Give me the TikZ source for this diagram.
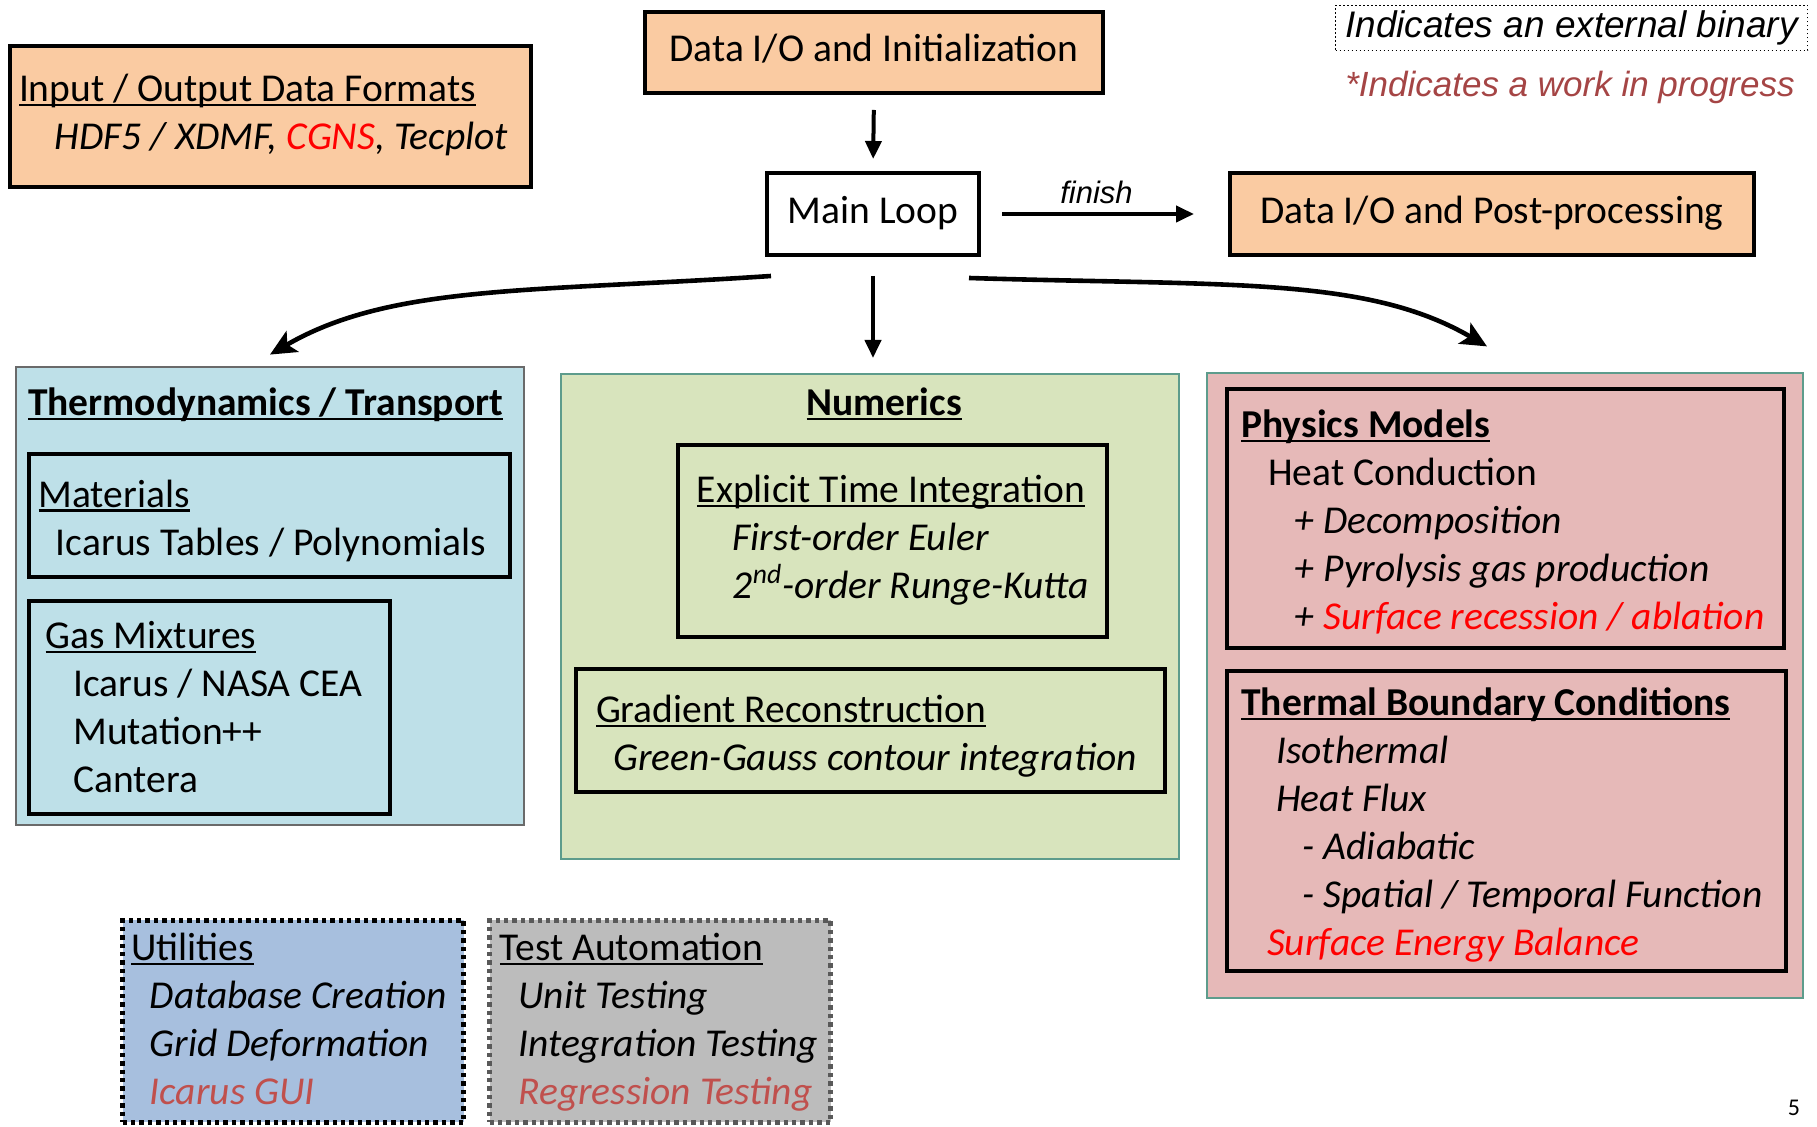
\documentclass[tikz,border=0pt]{standalone}
\usepackage{fontspec}
\setmainfont{Carlito}
\newfontfamily\arialfont{Liberation Sans}
\usetikzlibrary{positioning,arrows.meta}
\definecolor{peach}{HTML}{FACBA2}
\definecolor{thermoblue}{HTML}{BEE0E8}
\definecolor{numgreen}{HTML}{D8E4BD}
\definecolor{physpink}{HTML}{E6B9B8}
\definecolor{utilblue}{HTML}{A7BFDE}
\definecolor{testgrey}{HTML}{BCBCBC}
\definecolor{panelteal}{HTML}{5D9C8C}
\definecolor{panelgrey}{HTML}{6A6A6A}
\definecolor{wipred}{HTML}{C0504D}
\definecolor{legendred}{HTML}{A54545}
\newcommand{\undl}[1]{\setbox0=\hbox{#1}\rlap{\rule[-0.11em]{\wd0}{0.06em}}\box0}
\newcommand{\ind}[1]{\hspace*{#1}}
\tikzset{
  panel/.style     = {draw, line width=1pt, inner sep=0pt},
  boxed/.style     = {draw=black, line width=2pt, inner sep=0pt},
  peachbox/.style  = {boxed, fill=peach, font=\fontsize{19.75}{24}\selectfont,
                      text height=13.5pt, text depth=4pt},
  itemtext/.style  = {inner sep=0pt, align=left, anchor=base west,
                      font=\fontsize{19.75}{24}\selectfont},
  heading/.style   = {inner sep=0pt, anchor=base west,
                      font=\fontsize{19.75}{24}\selectfont\bfseries},
  dotbox/.style    = {line width=2.2pt, dash pattern=on 2.2pt off 2pt, inner sep=0pt},
  flow/.style      = {-{Triangle[length=9pt,width=8pt]}, line width=2pt},
  curvedflow/.style= {-{Stealth[length=13pt,width=12pt,inset=3pt]}, line width=2.3pt},
}
\begin{document}
\begin{tikzpicture}[x=1pt,y=-1pt]
  \useasboundingbox (0,0) rectangle (908.5,563.5);

  % top row (text nodes sit on the baseline of their last line)
  \node[peachbox, minimum width=229pt, minimum height=40.5pt] (init) at (437,26.25)
       {Data I/O and Initialization};
  \node[boxed, fill=white, font=\fontsize{19.75}{24}\selectfont, text height=13.5pt,
        text depth=4pt, minimum width=106pt, minimum height=41pt] (main) at (436.5,107) {Main Loop};
  \node[peachbox, minimum width=262pt, minimum height=41pt] (post) at (746,107)
       {Data I/O and Post-processing};
  \node[peachbox, minimum width=260.5pt, minimum height=70.5pt] (iofmt) at (135.25,58.25) {};
  \node[itemtext] (iofmttxt) at (9.3,74.9)
       {\undl{Input / Output Data Formats}\\ \ind{17.9pt}\textit{HDF5 / XDMF, \textcolor{red}{CGNS}, Tecplot}};

  % legend
  \node[draw, line width=0.8pt, dash pattern=on 0.9pt off 1.1pt, inner sep=0pt,
        minimum width=236pt, minimum height=22.5pt,
        font=\arialfont\itshape\fontsize{18.5}{22}\selectfont] (legend) at (785.75,14)
       {Indicates an external binary};
  \node[inner sep=0pt, text=legendred, font=\arialfont\itshape\fontsize{17.5}{21}\selectfont]
       (wip) at (785,43.5) {*Indicates a work in progress};

  % thermodynamics
  \node[panel, draw=panelgrey, fill=thermoblue, minimum width=254pt, minimum height=229pt] (thermo) at (135,298) {};
  \node[heading] (thermotitle) at (13.9,207.9) {\undl{Thermodynamics / Transport}};
  \node[boxed, minimum width=240.5pt, minimum height=61.5pt] (mat) at (134.75,257.75) {};
  \node[itemtext] (mattxt) at (19.1,277.7)
       {\undl{Materials}\\ \ind{8.7pt}Icarus Tables / Polynomials};
  \node[boxed, minimum width=180.5pt, minimum height=106.5pt] (gas) at (104.75,353.75) {};
  \node[itemtext] (gastxt) at (22.6,396.4)
       {\undl{Gas Mixtures}\\ \ind{13.9pt}Icarus / NASA CEA\\ \ind{13.9pt}Mutation++\\ \ind{13.9pt}Cantera};

  % numerics
  \node[panel, draw=panelteal, fill=numgreen, minimum width=309pt, minimum height=242.5pt] (num) at (435,308.25) {};
  \node[heading, anchor=base] (numtitle) at (442.1,207.9) {\undl{Numerics}};
  \node[boxed, minimum width=214.5pt, minimum height=96pt] (expl) at (446.25,270.5) {};
  \node[itemtext] (expltxt) at (348.2,299.4)
       {\undl{Explicit Time Integration}\\ \ind{18pt}\textit{First-order Euler}\\
        \ind{18pt}\textit{2\textsuperscript{nd}-order Runge-Kutta}};
  \node[boxed, minimum width=294.5pt, minimum height=61.5pt] (grad) at (435.25,365.25) {};
  \node[itemtext] (gradtxt) at (297.8,385.5)
       {\undl{Gradient Reconstruction}\\ \ind{8.7pt}\textit{Green-Gauss contour integration}};

  % physics
  \node[panel, draw=panelteal, fill=physpink, minimum width=298pt, minimum height=312.5pt] (phys) at (752.5,342.75) {};
  \node[boxed, minimum width=278.5pt, minimum height=129.5pt] (models) at (752.75,259.25) {};
  \node[itemtext] (modelstxt) at (620.5,314.9)
       {\textbf{\undl{Physics Models}}\\ \ind{13.4pt}Heat Conduction\\
        \ind{26.7pt}\textit{+ Decomposition}\\ \ind{26.7pt}\textit{+ Pyrolysis gas production}\\
        \ind{26.7pt}\textit{+ \textcolor{red}{Surface recession / ablation}}};
  \node[boxed, minimum width=279.5pt, minimum height=150pt] (tbc) at (753.25,410.5) {};
  \node[itemtext] (tbctxt) at (620.5,478)
       {\textbf{\undl{Thermal Boundary Conditions}}\\ \ind{17.4pt}\textit{Isothermal}\\
        \ind{17.4pt}\textit{Heat Flux}\\ \ind{30.7pt}\textit{- Adiabatic}\\
        \ind{30.7pt}\textit{- Spatial / Temporal Function}\\
        \ind{12.8pt}\textit{\textcolor{red}{Surface Energy Balance}}};

  % utilities and tests
  \node[dotbox, draw=black, fill=utilblue, minimum width=170.5pt, minimum height=101pt] (util) at (146.5,510.75) {};
  \node[itemtext] (utiltxt) at (65.5,552.3)
       {\undl{Utilities}\\ \ind{9.2pt}\textit{Database Creation}\\ \ind{9.2pt}\textit{Grid Deformation}\\
        \ind{9.2pt}\textit{\textcolor{wipred}{Icarus GUI}}};
  \node[dotbox, draw=black!65, fill=testgrey, minimum width=170.5pt, minimum height=101pt] (test) at (330,510.75) {};
  \node[itemtext] (testtxt) at (249.7,552.3)
       {\undl{Test Automation}\\ \ind{9.3pt}\textit{Unit Testing}\\ \ind{9.3pt}\textit{Integration Testing}\\
        \ind{9.3pt}\textit{\textcolor{wipred}{Regression Testing}}};

  \node[inner sep=0pt, font=\fontsize{12}{14}\selectfont] (pagenum) at (897,554) {5};

  % arrows
  \draw[flow, shorten <=7.5pt, shorten >=6pt] (init.south) -- (main.north);
  \draw[flow, shorten <=10.5pt, shorten >=17pt] (main.east) --
       node[above=4pt, xshift=-4pt, inner sep=0pt, font=\arialfont\itshape\fontsize{15.5}{18}\selectfont] (fin) {finish} (post.west);
  \draw[flow, shorten <=9.5pt, shorten >=7.5pt] (main.south) -- (main.south |- num.north);
  \draw[curvedflow] ([shift={(3pt,-9.5pt)}]main.south west) .. controls +(-120pt,-8pt) and +(60pt,35pt) .. ([yshift=5.7pt]thermo.north);
  \draw[curvedflow] ([shift={(-6pt,-10.5pt)}]main.south east) .. controls +(130pt,-4pt) and +(-60pt,35pt) .. ([shift={(-9pt,12.8pt)}]phys.north);
\end{tikzpicture}
\end{document}
